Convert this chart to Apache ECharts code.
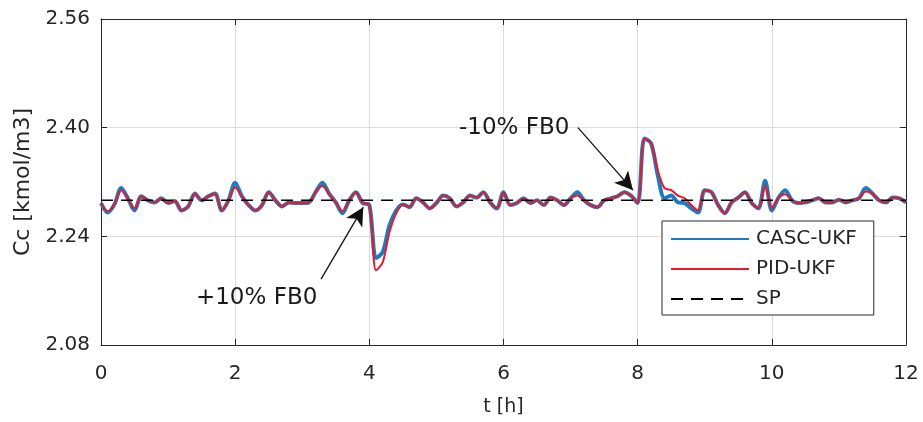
<!DOCTYPE html>
<html>
<head>
<meta charset="utf-8">
<script src="https://cdn.jsdelivr.net/npm/echarts@6/dist/echarts.min.js"></script>
<style>
html,body{margin:0;padding:0;background:#fff;}
#main{width:923px;height:422px;}
</style>
</head>
<body>
<div id="main"></div>
<script>
// time axis, 0 .. 12 h every 0.1 h
var tHours = [0,0.1,0.2,0.3,0.4,0.5,0.6,0.7,0.8,0.9,1,1.1,1.2,1.3,1.4,1.5,1.6,1.7,1.8,1.9,2,2.1,2.2,2.3,2.4,2.5,2.6,2.7,2.8,2.9,3,3.1,3.2,3.3,3.4,3.5,3.6,3.7,3.8,3.9,4,4.1,4.2,4.3,4.4,4.5,4.6,4.7,4.8,4.9,5,5.1,5.2,5.3,5.4,5.5,5.6,5.7,5.8,5.9,6,6.1,6.2,6.3,6.4,6.5,6.6,6.7,6.8,6.9,7,7.1,7.2,7.3,7.4,7.5,7.6,7.7,7.8,7.9,8,8.1,8.2,8.3,8.4,8.5,8.6,8.7,8.8,8.9,9,9.1,9.2,9.3,9.4,9.5,9.6,9.7,9.8,9.9,10,10.1,10.2,10.3,10.4,10.5,10.6,10.7,10.8,10.9,11,11.1,11.2,11.3,11.4,11.5,11.6,11.7,11.8,11.9,12];

var cascUkf = [2.289,2.275,2.287,2.311,2.296,2.278,2.299,2.293,2.290,2.296,
	2.289,2.292,2.278,2.284,2.303,2.293,2.299,2.303,2.278,2.293,
	2.319,2.299,2.286,2.278,2.286,2.305,2.293,2.284,2.290,2.289,
	2.289,2.290,2.305,2.319,2.303,2.290,2.274,2.293,2.305,2.289,
	2.286,2.208,2.217,2.256,2.278,2.287,2.283,2.296,2.290,2.281,
	2.289,2.300,2.296,2.284,2.290,2.300,2.297,2.305,2.290,2.281,
	2.305,2.286,2.289,2.296,2.289,2.293,2.286,2.297,2.293,2.286,
	2.296,2.305,2.293,2.286,2.283,2.293,2.296,2.299,2.305,2.300,
	2.289,2.384,2.377,2.330,2.296,2.300,2.290,2.289,2.281,2.275,
	2.308,2.305,2.286,2.274,2.290,2.297,2.305,2.289,2.281,2.322,
	2.278,2.297,2.308,2.293,2.289,2.290,2.293,2.296,2.290,2.290,
	2.294,2.290,2.293,2.296,2.311,2.303,2.293,2.290,2.297,2.296,2.290];

var pidUkf = [2.289,2.277,2.287,2.308,2.296,2.281,2.299,2.293,2.290,2.296,
	2.289,2.292,2.278,2.284,2.303,2.293,2.299,2.303,2.278,2.293,
	2.312,2.299,2.286,2.278,2.286,2.305,2.293,2.284,2.290,2.289,
	2.289,2.290,2.305,2.314,2.303,2.290,2.277,2.293,2.305,2.289,
	2.286,2.190,2.202,2.246,2.274,2.287,2.283,2.296,2.290,2.281,
	2.289,2.300,2.296,2.284,2.290,2.300,2.297,2.305,2.290,2.281,
	2.305,2.286,2.289,2.296,2.289,2.293,2.286,2.297,2.293,2.286,
	2.296,2.300,2.293,2.286,2.283,2.293,2.296,2.299,2.305,2.300,
	2.289,2.384,2.377,2.337,2.311,2.308,2.300,2.296,2.286,2.278,
	2.308,2.305,2.286,2.274,2.290,2.297,2.305,2.289,2.281,2.315,
	2.281,2.297,2.302,2.293,2.289,2.290,2.293,2.296,2.290,2.290,
	2.294,2.290,2.293,2.296,2.306,2.303,2.293,2.290,2.297,2.296,2.290];

var setPoint = 2.293;

var xTicks = [0, 12, 2];        // min, max, interval
var yTicks = [2.08, 2.56, 0.16];

// annotation arrows [from, to] and texts, in data units
var arrowLines = [
	[[3.28, 2.177], [3.91, 2.283]],
	[[7.11, 2.400], [7.93, 2.308]]
];
var noteTexts = [
	['+10% FB0', 2.32, 2.149],
	['-10% FB0', 6.16, 2.400]
];

function pairs(xs, ys){
	var out = new Array();
	for(var i = 0;i<xs.length;i++){
		out.push([xs[i], ys[i]]);
	}
	return out;
}

var fontName = '"DejaVu Sans", "Liberation Sans", Arial, sans-serif';
var axisColor = '#262626';

var spData = [[xTicks[0], setPoint], [xTicks[1], setPoint]];

var markLineData = new Array();
for(var i = 0;i<arrowLines.length;i++){
	markLineData.push([{coord: arrowLines[i][0]}, {coord: arrowLines[i][1]}]);
}
var markPointData = new Array();
for(var i = 0;i<noteTexts.length;i++){
	markPointData.push({name: noteTexts[i][0], coord: [noteTexts[i][1], noteTexts[i][2]]});
}

function baseAxis(pos){
	return {
		type: 'value',
		position: pos,
		axisLine: {show: true, onZero: false, lineStyle: {color: axisColor, width: 1}},
		axisTick: {show: true, inside: true, length: 6, lineStyle: {color: axisColor}},
		splitLine: {show: false},
		axisLabel: {show: false}
	};
}

var xMain = baseAxis('bottom');
xMain.min = xTicks[0]; xMain.max = xTicks[1]; xMain.interval = xTicks[2];
xMain.splitLine = {show: true, lineStyle: {color: '#dcdcdc', width: 1}};
xMain.axisLabel = {show: true, color: axisColor, fontSize: 20, fontFamily: fontName, margin: 19};
xMain.name = 't [h]';
xMain.nameLocation = 'middle';
xMain.nameGap = 53;
xMain.nameTextStyle = {color: axisColor, fontSize: 19, fontFamily: fontName};

var xTop = baseAxis('top');
xTop.min = xTicks[0]; xTop.max = xTicks[1]; xTop.interval = xTicks[2];

var yMain = baseAxis('left');
yMain.min = yTicks[0]; yMain.max = yTicks[1]; yMain.interval = yTicks[2];
yMain.splitLine = {show: true, lineStyle: {color: '#dcdcdc', width: 1}};
yMain.axisLabel = {show: true, color: axisColor, fontSize: 20, fontFamily: fontName, margin: 11,
	formatter: function(v){ return v.toFixed(2); }};
yMain.name = 'Cc [kmol/m3]';
yMain.nameLocation = 'middle';
yMain.nameGap = 63;
yMain.nameTextStyle = {color: axisColor, fontSize: 22, fontFamily: fontName};

var yRight = baseAxis('right');
yRight.min = yTicks[0]; yRight.max = yTicks[1]; yRight.interval = yTicks[2];

var myChart = echarts.init(document.getElementById('main'));
var option = {
	animation: false,
	backgroundColor: '#fff',
	grid: {left: 101, right: 17, top: 19, bottom: 77},
	xAxis: [xMain, xTop],
	yAxis: [yMain, yRight],
	legend: {
		orient: 'vertical',
		left: 662,
		top: 221,
		padding: [8, 17, 6, 8],
		backgroundColor: '#fff',
		borderColor: '#262626',
		borderWidth: 1,
		borderRadius: 0,
		itemWidth: 78,
		itemHeight: 14,
		itemGap: 10,
		itemStyle: {opacity: 0},
		textStyle: {color: axisColor, fontSize: 20, fontFamily: fontName, padding: [0, 0, 0, 2]},
		data: ['CASC-UKF', 'PID-UKF', 'SP']
	},
	series: [
		{
			name: 'CASC-UKF',
			type: 'line',
			data: pairs(tHours, cascUkf),
			showSymbol: false,
			symbol: 'none',
			smooth: 0.3,
			lineStyle: {color: '#1f7bbf', width: 4},
			itemStyle: {color: '#1f7bbf'},
			z: 2
		},
		{
			name: 'PID-UKF',
			type: 'line',
			data: pairs(tHours, pidUkf),
			showSymbol: false,
			symbol: 'none',
			smooth: 0.3,
			lineStyle: {color: '#e8192c', width: 2},
			itemStyle: {color: '#e8192c'},
			z: 3
		},
		{
			name: 'SP',
			type: 'line',
			data: spData,
			showSymbol: false,
			symbol: 'none',
			lineStyle: {color: '#000', width: 1.5, type: [12, 8]},
			itemStyle: {color: '#000'},
			z: 4,
			markLine: {
				silent: true,
				symbol: ['none', 'arrow'],
				symbolSize: [14, 18],
				lineStyle: {color: '#111', width: 1.3, type: 'solid'},
				itemStyle: {color: '#111'},
				label: {show: false},
				data: markLineData
			},
			markPoint: {
				silent: true,
				symbol: 'circle',
				symbolSize: 0,
				label: {show: true, position: 'inside', color: '#1a1a1a', fontSize: 23, fontFamily: fontName,
					formatter: function(p){ return p.name; }},
				data: markPointData
			}
		}
	]
};
// 为echarts对象加载数据
myChart.setOption(option);
</script>
</body>
</html>
